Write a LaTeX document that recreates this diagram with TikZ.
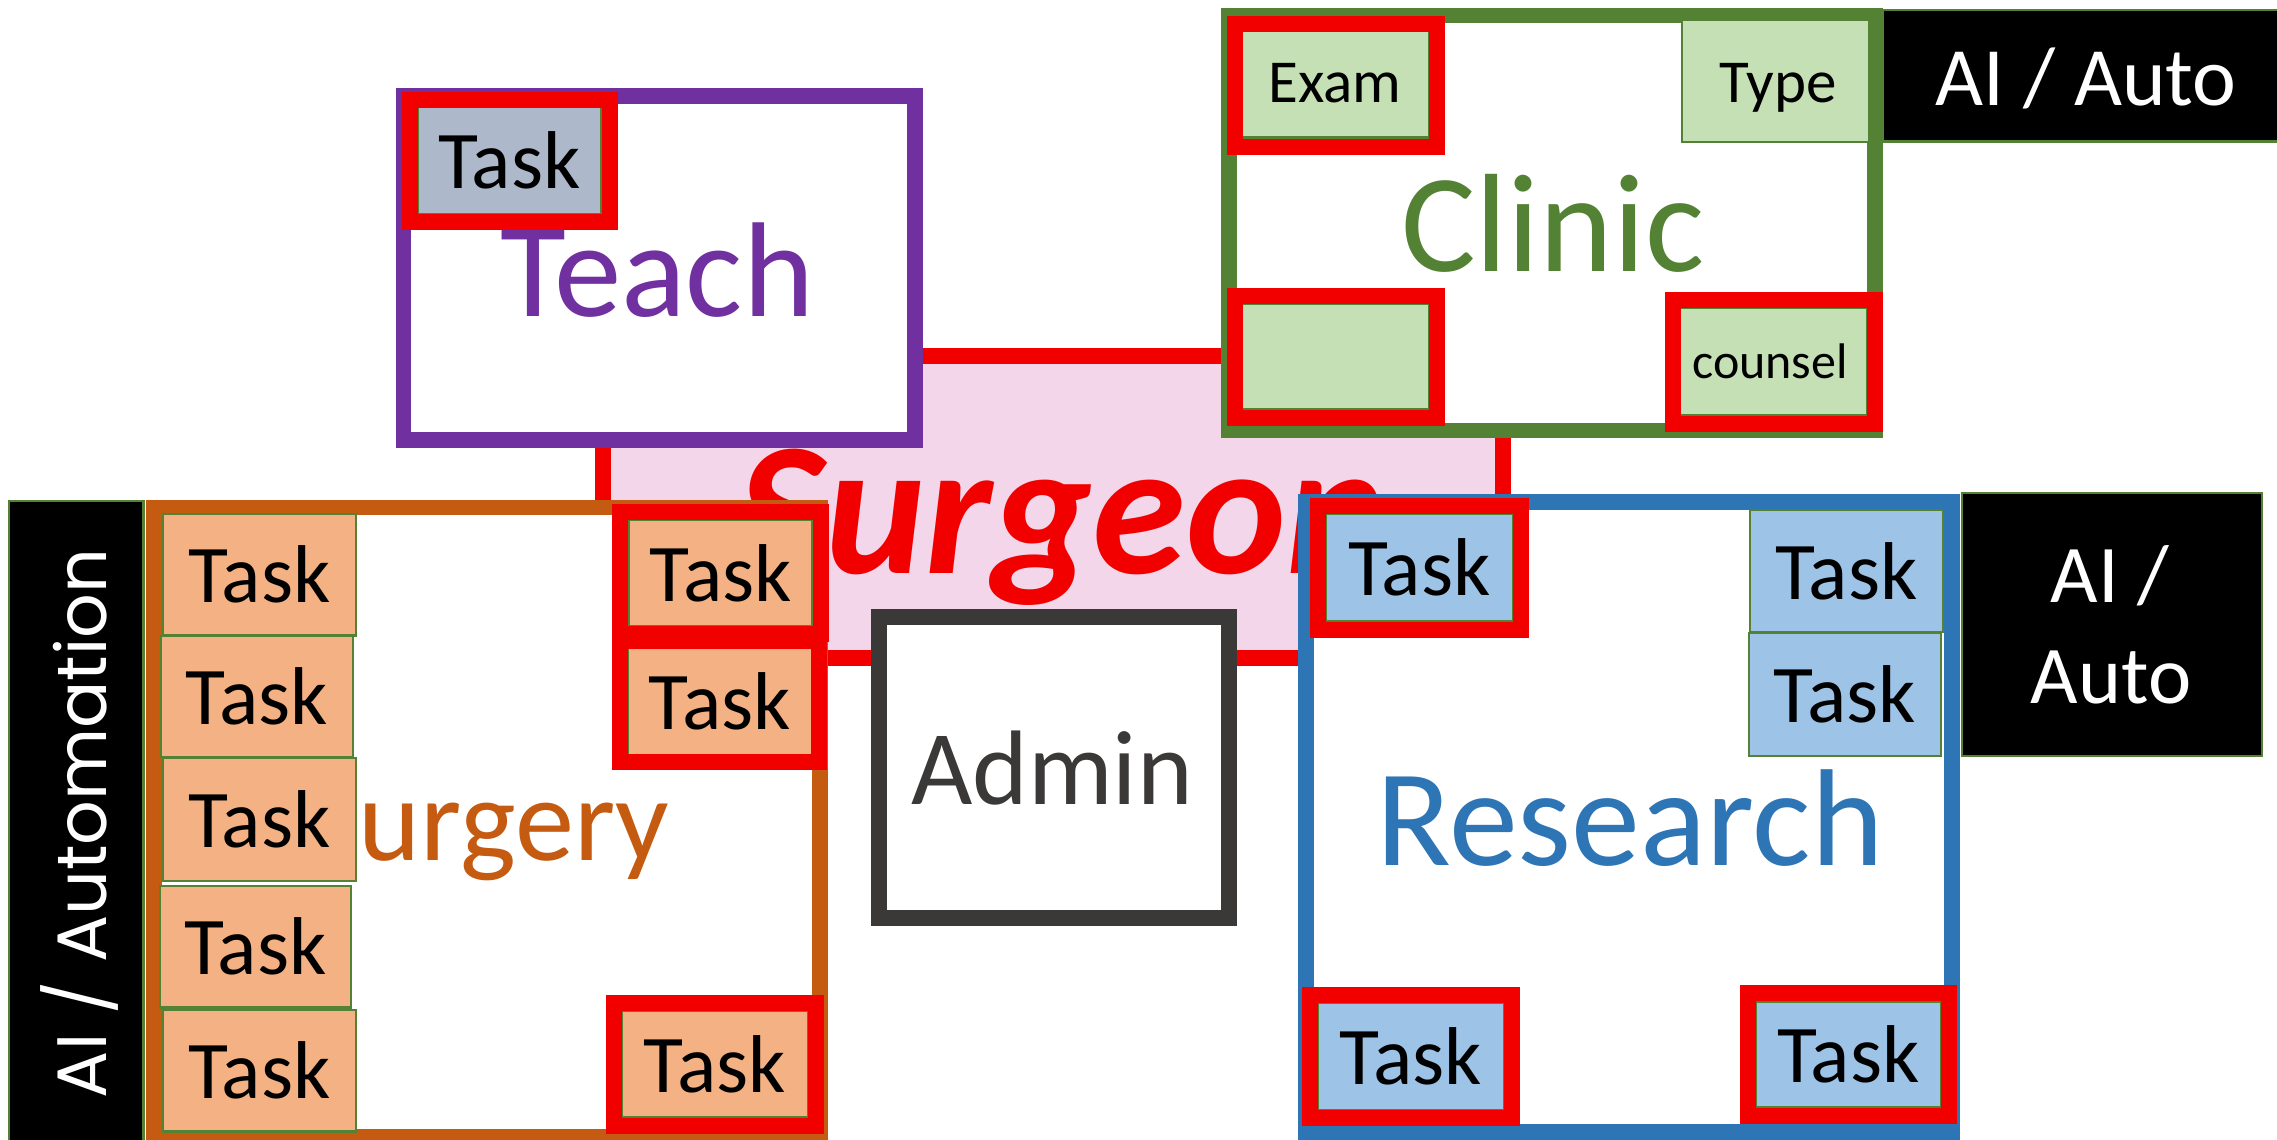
\documentclass[tikz,border=0pt]{standalone}
\usepackage{fontspec}
\setmainfont{Carlito}
\newfontfamily\geofont{Poppins}
\usetikzlibrary{fit}
\definecolor{cRed}{RGB}{242,0,0}
\definecolor{cPink}{RGB}{243,214,234}
\definecolor{cPurple}{RGB}{112,48,160}
\definecolor{cGreen}{RGB}{84,130,53}
\definecolor{cLGreen}{RGB}{197,224,180}
\definecolor{cOrange}{RGB}{197,90,17}
\definecolor{cLOrange}{RGB}{244,177,131}
\definecolor{cBlue}{RGB}{46,117,182}
\definecolor{cLBlue}{RGB}{157,195,230}
\definecolor{cSlate}{RGB}{173,185,202}
\definecolor{cGray}{RGB}{59,56,56}
\newcommand\fsz[1]{\fontsize{#1}{#1}\selectfont}
% task box: name, x1, y1, x2, y2, fill
\newcommand\taskat[6]{%
  \node[taskbox, fill=#6, fit={(#2,#3) (#4,#5)}] (#1) {};
  \node[lbl, font=\fsz{24.6pt}] (#1T) at ({(#2+#4)/2},{(#3+#5)/2+28}) {Task};}
\begin{document}
\begin{tikzpicture}[x=0.3pt,y=-0.3pt,
  region/.style={inner sep=0pt, outer sep=0pt, line width=4.65pt, fill=white},
  redring/.style={inner sep=0pt, outer sep=0pt, draw=cRed, line width=4.8pt},
  taskbox/.style={inner sep=0pt, outer sep=0pt, draw=cGreen, line width=0.75pt},
  blackbox/.style={inner sep=0pt, outer sep=0pt, draw=cGreen, line width=0.75pt, fill=black},
  lbl/.style={inner sep=0pt, anchor=base}]
\useasboundingbox (0,0) rectangle (2277,1139);

% Surgeon
\node[region, draw=cRed, fill=cPink, line width=4.8pt, fit={(603,356) (1503,658)}] (surgeon) {};
\node[lbl, text=cRed, font=\fsz{57pt}\bfseries\itshape] (surgeonlbl) at (1062,573) {Surgeon};

% Regions
\node[region, draw=cPurple, fit={(403.5,96) (915,440)}] (teach) {};
\node[region, draw=cGreen, fit={(1229,15.5) (1875,430.5)}] (clinic) {};
\node[region, draw=cOrange, fit={(154,507.5) (820,1137)}] (surgery) {};
\node[region, draw=cGray, line width=4.8pt, fit={(879,617) (1229,918)}] (admin) {};
\node[region, draw=cBlue, line width=4.8pt, fit={(1305.5,502) (1952,1131.5)}] (research) {};

\node[lbl, text=cPurple, font=\fsz{40.5pt}] (teachlbl) at (657,316) {Teach};
\node[lbl, text=cGreen, font=\fsz{42pt}] (cliniclbl) at (1553,271) {Clinic};
\node[lbl, text=cOrange, font=\fsz{35.5pt}] (surgerylbl) at (487,860) {Surgery};
\node[lbl, text=cGray, font=\fsz{31.8pt}] (adminlbl) at (1052,804) {Admin};
\node[lbl, text=cBlue, font=\fsz{41.4pt}] (researchlbl) at (1630,865) {Research};

% AI boxes
\node[blackbox, fit={(1883,10) (2290,141.7)}] (aitop) {};
\node[lbl, text=white, font=\fsz{24.9pt}] (aitoplbl) at (2086,105) {AI / Auto};
\node[blackbox, fit={(1962,493) (2262,756)}] (airight) {};
\node[lbl, text=white, font=\fsz{24.6pt}] (airightlblA) at (2110,602) {AI /};
\node[lbl, text=white, font=\fsz{24.6pt}] (airightlblB) at (2111,703) {Auto};
\node[blackbox, fit={(9,501) (143.5,1150)}] (aileft) {};
\node[lbl, rotate=90, text=white, font=\geofont\fsz{21pt}] (aileftlbl) at (106,823.5) {AI / Automation};

% Teach task
\taskat{teachtask}{418}{107}{601}{214}{cSlate}
\node[redring, fit={(410,99.5) (610,222)}] (teachtaskring) {};

% Clinic tasks
\node[taskbox, fill=cLGreen, fit={(1242,30) (1429,137.5)}] (exam) {};
\node[lbl, font=\fsz{18.3pt}] (examlbl) at (1335,102) {Exam};
\node[redring, fit={(1234.5,23.5) (1437,146.5)}] (examring) {};
\node[taskbox, fill=cLGreen, fit={(1682,20) (1869.6,142)}] (type) {};
\node[lbl, font=\fsz{18.3pt}] (typelbl) at (1778,102) {Type};
\node[taskbox, fill=cLGreen, fit={(1242,303.6) (1429,409)}] (blank) {};
\node[redring, fit={(1234.5,295.5) (1437,417.5)}] (blankring) {};
\node[taskbox, fill=cLGreen, fit={(1680,308) (1867,415)}] (counsel) {};
\node[lbl, font=\fsz{15pt}] (counsellbl) at (1770,378.6) {counsel};
\node[redring, fit={(1673,300) (1875,423.5)}] (counselring) {};

% Surgery tasks
\taskat{sA}{163}{514}{356}{635.5}{cLOrange}
\taskat{sB}{161}{636}{353}{757}{cLOrange}
\taskat{sC}{163}{758}{356}{881}{cLOrange}
\taskat{sD}{160}{886}{351}{1007.5}{cLOrange}
\taskat{sE}{163}{1010}{356}{1131.5}{cLOrange}
\taskat{sF}{628.5}{520}{812.6}{626}{cLOrange}
\node[redring, fit={(620,512) (821,634)}] (sFring) {};
\taskat{sG}{628}{648}{812}{755}{cLOrange}
\node[redring, fit={(620,641) (819,762)}] (sGring) {};
\taskat{sH}{621.7}{1011}{808}{1117}{cLOrange}
\node[redring, fit={(613.6,1003) (815.8,1126)}] (sHring) {};

% Research tasks
\taskat{rA}{1326}{513.6}{1513}{620.8}{cLBlue}
\node[redring, fit={(1317.6,505.7) (1520.8,629.6)}] (rAring) {};
\taskat{rB}{1750}{510}{1943}{632}{cLBlue}
\taskat{rC}{1749}{633}{1941}{756}{cLBlue}
\taskat{rD}{1318}{1003}{1504}{1110}{cLBlue}
\node[redring, fit={(1310,995) (1512,1118)}] (rDring) {};
\taskat{rE}{1755.6}{1002}{1941}{1107}{cLBlue}
\node[redring, fit={(1748,993) (1949,1116)}] (rEring) {};
\end{tikzpicture}
\end{document}
